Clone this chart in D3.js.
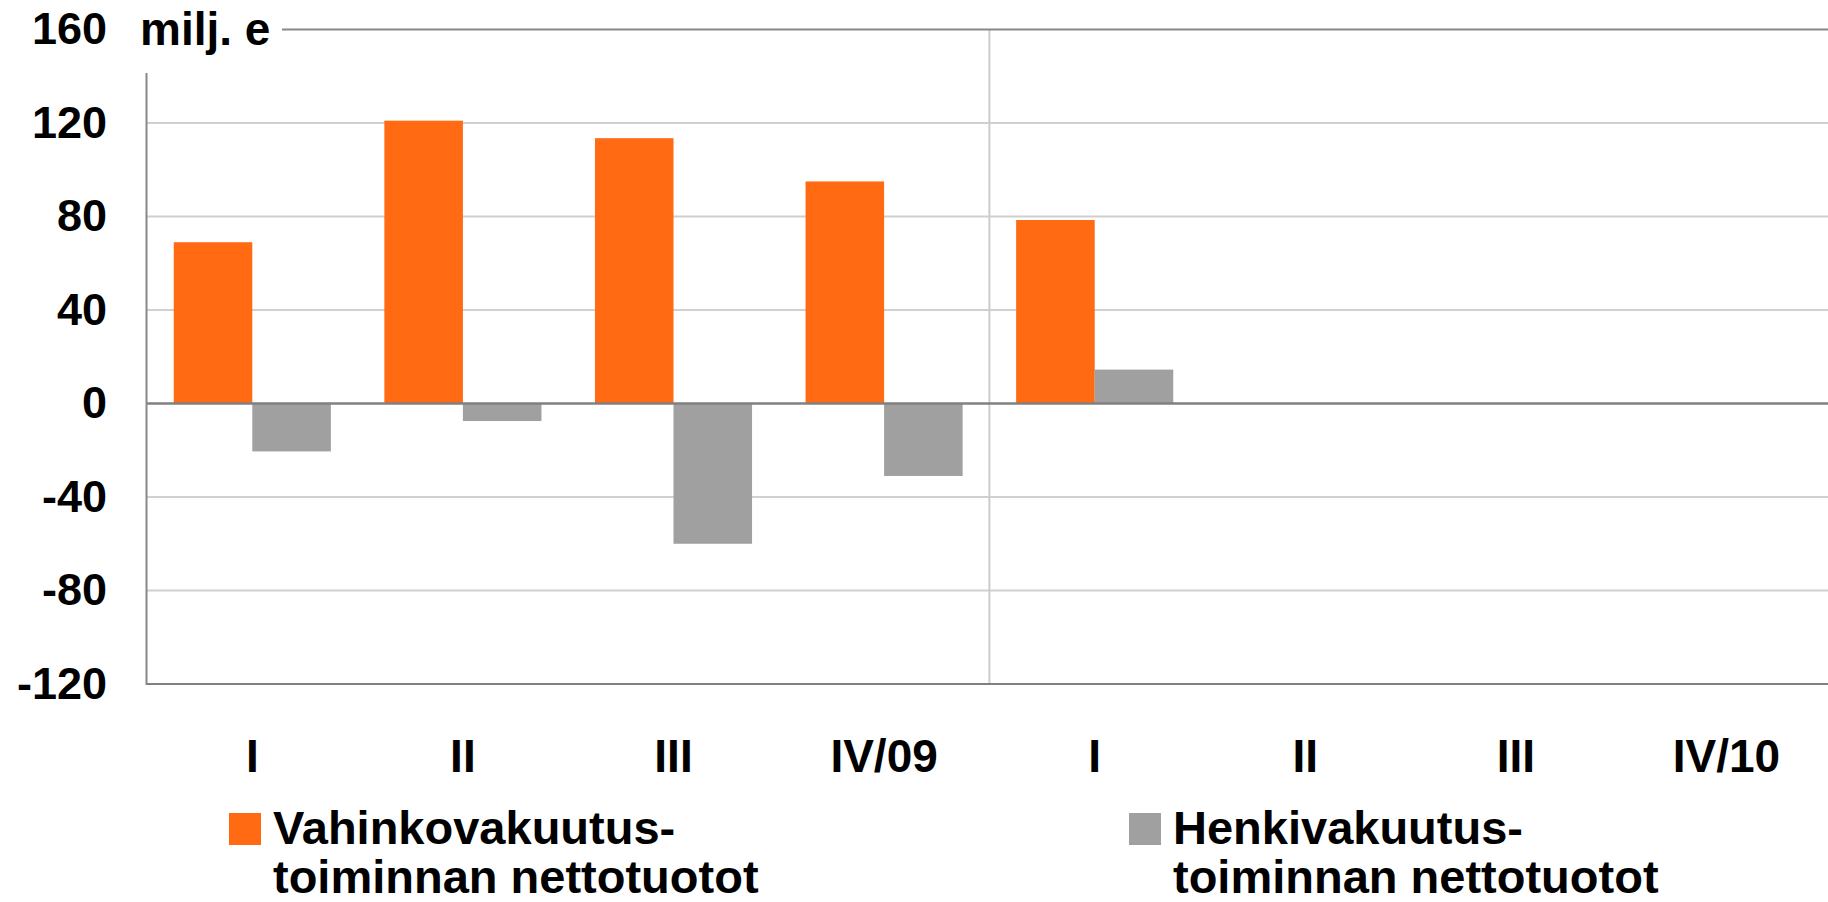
<!DOCTYPE html>
<html lang="fi">
<head>
    <meta charset="UTF-8">
    <title>Nettotuotot</title>
    <script src="https://cdn.jsdelivr.net/npm/d3@7/dist/d3.min.js"></script>
    <style>
        body { margin: 0; background: #fff; }
        svg { display: block; }
        text { font-family: "Liberation Sans", Arial, sans-serif; font-weight: bold; fill: #000; }
    </style>
</head>
<body>
<svg width="1828" height="902"></svg>
<script>
    // data
    var quarters = ["I", "II", "III", "IV/09", "I", "II", "III", "IV/10"];
    var vahinko = [69, 121, 113.5, 95, 78.5, null, null, null];   // Vahinkovakuutustoiminnan nettotuotot
    var henki = [-20.5, -7.5, -60, -31, 14.5, null, null, null];  // Henkivakuutustoiminnan nettotuotot
    var yTicks = [160, 120, 80, 40, 0, -40, -80, -120];
    var unitLabel = "milj. e";
    var seriesNames = ["vahinko", "henki"];
    var legendLines = [["Vahinkovakuutus-", "toiminnan nettotuotot"], ["Henkivakuutus-", "toiminnan nettotuotot"]];
    var colors = ["#ff6a13", "#a0a0a0"];

    var svg = d3.select("svg");
    var W = +svg.attr("width");
    var plotLeft = 147, plotTop = 29.5, plotBottom = 684;

    var x0 = d3.scaleBand()
        .domain(d3.range(quarters.length))
        .range([plotLeft, plotLeft + 8 * 210.6])
        .padding(0);
    var x1 = d3.scaleBand()
        .domain(seriesNames)
        .range([x0.bandwidth() * 0.127, x0.bandwidth() * 0.873]);
    var y = d3.scaleLinear()
        .domain([-120, 160])
        .range([plotBottom, plotTop]);

    // gridlines
    svg.append("g").selectAll("line")
        .data(yTicks.filter(function(d){ return d !== 0 && d !== 160 && d !== -120; }))
        .enter().append("line")
        .attr("x1", plotLeft).attr("x2", W)
        .attr("y1", function(d){ return y(d); })
        .attr("y2", function(d){ return y(d); })
        .attr("stroke", "#d0d0d0")
        .attr("stroke-width", 2);

    // year separator
    svg.append("line")
        .attr("x1", x0(4)).attr("x2", x0(4))
        .attr("y1", y(160)).attr("y2", y(-120))
        .attr("stroke", "#cccccc")
        .attr("stroke-width", 2);

    // bars
    var groups = svg.append("g").selectAll("g")
        .data(quarters.map(function(q, i){ return {i: i, vals: [vahinko[i], henki[i]]}; }))
        .enter().append("g")
        .attr("transform", function(d){ return "translate(" + x0(d.i) + ",0)"; });
    groups.selectAll("rect")
        .data(function(d){ return d.vals.map(function(v, k){ return {v: v, k: k}; }).filter(function(e){ return e.v != null; }); })
        .enter().append("rect")
        .attr("x", function(d){ return x1(seriesNames[d.k]); })
        .attr("width", x1.bandwidth())
        .attr("y", function(d){ return y(Math.max(0, d.v)); })
        .attr("height", function(d){ return Math.abs(y(d.v) - y(0)); })
        .attr("fill", function(d){ return colors[d.k]; });

    // frame lines
    svg.append("line").attr("x1", plotLeft).attr("x2", W).attr("y1", y(0)).attr("y2", y(0))
        .attr("stroke", "#808080").attr("stroke-width", 2.5);
    svg.append("line").attr("x1", plotLeft - 1).attr("x2", W).attr("y1", y(-120)).attr("y2", y(-120))
        .attr("stroke", "#808080").attr("stroke-width", 2);
    svg.append("line").attr("x1", 282).attr("x2", W).attr("y1", y(160)).attr("y2", y(160))
        .attr("stroke", "#888888").attr("stroke-width", 2);
    svg.append("line").attr("x1", plotLeft - 0.5).attr("x2", plotLeft - 0.5).attr("y1", 73).attr("y2", y(-120) + 1)
        .attr("stroke", "#888888").attr("stroke-width", 2);

    // y axis labels (plain hyphen for negatives, as in the original)
    var yAxis = svg.append("g")
        .attr("transform", "translate(" + plotLeft + ",0)")
        .call(d3.axisLeft(y).tickValues(yTicks).tickSize(0).tickPadding(40)
            .tickFormat(function(d){ return String(d); }));
    yAxis.select(".domain").remove();
    yAxis.selectAll("text").style("font-size", "45px").attr("fill", "#000");

    svg.append("text")
        .attr("x", 140).attr("y", y(160)).attr("dy", "0.34em")
        .style("font-size", "46px")
        .text(unitLabel);

    // x axis labels
    var xAxis = svg.append("g")
        .attr("transform", "translate(0," + plotBottom + ")")
        .call(d3.axisBottom(x0).tickSize(0).tickPadding(55).tickFormat(function(i){ return quarters[i]; }));
    xAxis.select(".domain").remove();
    xAxis.selectAll("text").style("font-size", "46px").attr("fill", "#000");

    // legend
    var legendX = [229, 1129];
    var leg = svg.append("g").selectAll("g")
        .data(legendLines)
        .enter().append("g")
        .attr("transform", function(d, i){ return "translate(" + legendX[i] + ",813)"; });
    leg.append("rect")
        .attr("width", 32).attr("height", 32)
        .attr("fill", function(d, i){ return colors[i]; });
    leg.append("text")
        .attr("x", 44).attr("y", 30.5)
        .style("font-size", "47px")
        .selectAll("tspan")
        .data(function(d){ return d; })
        .enter().append("tspan")
        .attr("x", 44)
        .attr("dy", function(d, i){ return i === 0 ? 0 : 49; })
        .text(function(d){ return d; });
</script>
</body>
</html>
